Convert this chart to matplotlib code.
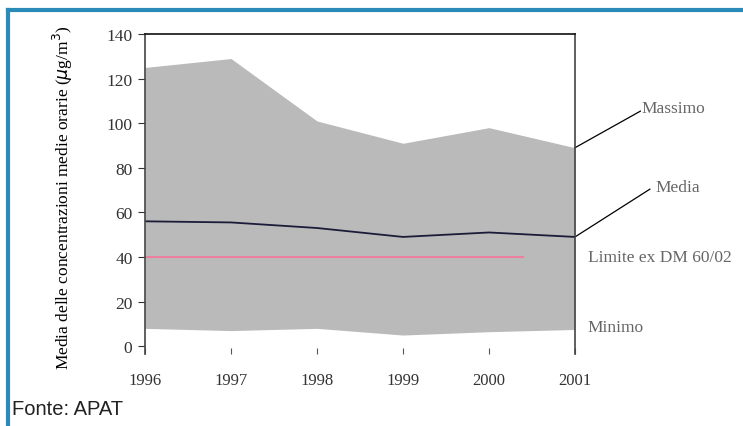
import numpy as np
import matplotlib
matplotlib.use("Agg")
import matplotlib.pyplot as plt
from matplotlib.lines import Line2D

# data
anni = [1996, 1997, 1998, 1999, 2000, 2001]
massimo = [125, 129, 101, 91, 98, 89]
media = [56, 55.5, 53, 49, 51, 49]
minimo = [8, 7, 8, 5, 6.5, 7.5]
limite_x = [1996, 2000.4]
limite_y = [40, 40]

serif = "Liberation Serif"

fig = plt.figure(figsize=(7.43, 4.27), dpi=100)
ax = fig.add_axes([145/743, 1-355/427, 430/743, 320/427])

#Grey band between minimum and maximum
ax.fill_between(anni, minimo, massimo, color="#bababa", lw=0)
ax.plot(anni, media, color="#1c1c3a", lw=1.3)
ax.plot(limite_x, limite_y, color="#ec7fa0", lw=1.5)

ax.set_xlim(1996, 2001)
ax.set_ylim(-3.5, 140)
ax.set_yticks(range(0, 141, 20))
ax.set_xticks(anni)
ax.spines["bottom"].set_visible(False)
for s in ["left", "right", "top"]:
    ax.spines[s].set_color("#444444")
    ax.spines[s].set_linewidth(1.2)
ax.spines["top"].set_color("#111111")
ax.tick_params(axis="y", direction="out", length=5, color="#333333",
               labelsize=12.5, labelcolor="#333333", pad=4)
ax.tick_params(axis="x", direction="in", length=4, color="#555555",
               labelsize=12, labelcolor="#333333", pad=13)
for lab in ax.get_xticklabels() + ax.get_yticklabels():
    lab.set_family(serif)

ax.set_ylabel("Media delle concentrazioni medie orarie ($\\mu$g/m$^3$)",
              family=serif, fontsize=12.5)
ax.yaxis.set_label_coords(-0.163, 0.49)

#Labels to the right of the chart
ax.plot([2001, 2001.76], [89, 105.4], color="black", lw=0.9, clip_on=False)
ax.plot([2001, 2001.87], [49, 70.4], color="black", lw=0.9, clip_on=False)
lab_kw = dict(family=serif, fontsize=12.5, color="#666666", va="center")
ax.text(2001.77, 107, "Massimo", **lab_kw)
ax.text(2001.93, 71.5, "Media", **lab_kw)
ax.text(2001.15, 40, "Limite ex DM 60/02", **lab_kw)
ax.text(2001.15, 8.5, "Minimo", **lab_kw)

fig.text(12/743, 1-410/427, "Fonte: APAT", family="Liberation Sans",
         fontsize=14.5, color="#222222", va="center")

#Blue frame on top and left
fig.add_artist(Line2D([8/743, 1], [1-11/427, 1-11/427], color="#2a8bb8", lw=3,
                      transform=fig.transFigure))
fig.add_artist(Line2D([8/743, 8/743], [0, 1-11/427], color="#2a8bb8", lw=3,
                      transform=fig.transFigure))

fig.savefig("out.png", dpi=100)
